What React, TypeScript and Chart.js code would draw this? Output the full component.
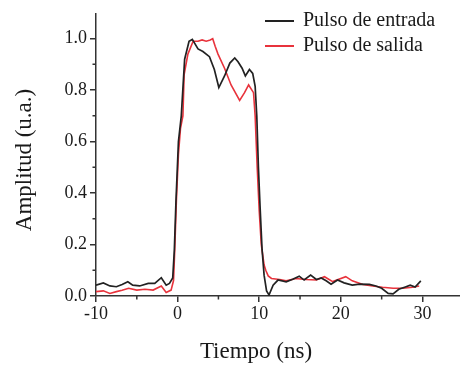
import React, { useEffect, useRef } from "react";
import { Chart, registerables } from "chart.js";

Chart.register(...registerables);

// Pulso de entrada (black)
const entradaT = [-10, -9.1, -8.3, -7.5, -6.8, -6.1, -5.5, -4.65, -3.6, -2.8, -2.0, -1.4, -1.0, -0.6, -0.4, -0.2, 0.1, 0.45, 0.86, 1.4, 1.8, 2.5, 3.1, 3.9, 4.5, 5.05, 5.75, 6.4, 7.0, 7.4, 7.9, 8.3, 8.8, 9.2, 9.5, 9.7, 9.9, 10.1, 10.35, 10.6, 10.9, 11.2, 11.7, 12.3, 13.3, 14.1, 14.9, 15.5, 16.3, 17.0, 17.6, 18.2, 18.8, 19.6, 20.4, 21.4, 22.3, 23.5, 24.3, 25.0, 25.8, 26.4, 27.1, 27.9, 28.5, 29.1, 29.8];
const entradaV = [0.042, 0.051, 0.039, 0.036, 0.045, 0.055, 0.042, 0.039, 0.049, 0.049, 0.071, 0.042, 0.049, 0.07, 0.18, 0.37, 0.6, 0.7, 0.92, 0.99, 0.997, 0.96, 0.95, 0.93, 0.88, 0.81, 0.855, 0.905, 0.925, 0.91, 0.885, 0.855, 0.88, 0.865, 0.815, 0.7, 0.5, 0.35, 0.18, 0.08, 0.02, 0.004, 0.042, 0.062, 0.055, 0.065, 0.077, 0.062, 0.081, 0.064, 0.07, 0.059, 0.046, 0.062, 0.051, 0.042, 0.046, 0.045, 0.039, 0.03, 0.01, 0.008, 0.026, 0.035, 0.042, 0.035, 0.059];

// Pulso de salida (red)
const salidaT = [-10, -9.1, -8.3, -7.5, -6.8, -6.0, -5.0, -4.0, -3.0, -2.0, -1.4, -0.8, -0.5, -0.35, -0.15, 0.1, 0.35, 0.65, 0.8, 1.26, 1.9, 2.5, 3.0, 3.5, 4.0, 4.3, 4.6, 4.95, 5.75, 6.55, 7.6, 8.2, 8.7, 9.1, 9.3, 9.5, 9.75, 10.0, 10.25, 10.6, 10.8, 11.1, 11.5, 12.5, 13.3, 14.5, 15.7, 17.0, 18.0, 19.0, 20.6, 21.4, 22.7, 23.9, 25.1, 26.4, 27.6, 28.8, 29.6];
const salidaV = [0.017, 0.02, 0.01, 0.017, 0.022, 0.03, 0.023, 0.026, 0.023, 0.039, 0.014, 0.023, 0.06, 0.18, 0.37, 0.55, 0.65, 0.7, 0.86, 0.94, 0.99, 0.99, 0.995, 0.99, 0.995, 1.0, 0.97, 0.94, 0.885, 0.82, 0.76, 0.79, 0.82, 0.8, 0.79, 0.7, 0.5, 0.33, 0.2, 0.12, 0.1, 0.078, 0.068, 0.064, 0.059, 0.068, 0.064, 0.062, 0.075, 0.056, 0.075, 0.059, 0.045, 0.039, 0.034, 0.03, 0.03, 0.034, 0.039];

const seriesLabels = ["Pulso de entrada", "Pulso de salida"];
const xMajorTicks = [-10, 0, 10, 20, 30];
const xMinorTicks = [-5, 5, 15, 25];
const yMajorTicks = [0, 0.2, 0.4, 0.6, 0.8, 1.0];
const yMinorTicks = [0.1, 0.3, 0.5, 0.7, 0.9];
const xTitle = "Tiempo (ns)";
const yTitle = "Amplitud (u.a.)";

const FONT = "'Liberation Serif', 'Times New Roman', serif";
const AXIS = "#333333";
const TEXT = "#1a1a1a";

export default function App() {
  const ref = useRef<HTMLCanvasElement>(null);
  useEffect(() => {
    if (!ref.current) return;
    const toPts = (t: number[], v: number[]) => t.map((x, i) => ({ x, y: v[i] }));
    const decor = {
      id: "decor",
      afterDraw(chart: any) {
        const ctx = chart.ctx;
        const xs = chart.scales.x;
        const ys = chart.scales.y;
        const area = chart.chartArea;
        ctx.save();
        ctx.strokeStyle = AXIS;
        ctx.lineWidth = 1.5;
        ctx.beginPath();
        xMinorTicks.forEach((t) => {
          const px = xs.getPixelForValue(t);
          ctx.moveTo(px, area.bottom);
          ctx.lineTo(px, area.bottom + 3.5);
        });
        yMinorTicks.forEach((t) => {
          const py = ys.getPixelForValue(t);
          ctx.moveTo(area.left, py);
          ctx.lineTo(area.left - 3.5, py);
        });
        ctx.stroke();
        // axis titles
        ctx.fillStyle = TEXT;
        ctx.font = `23px ${FONT}`;
        ctx.textAlign = "center";
        ctx.textBaseline = "middle";
        ctx.fillText(xTitle, 256, 352);
        ctx.save();
        ctx.translate(25, 160);
        ctx.rotate(-Math.PI / 2);
        ctx.fillText(yTitle, 0, 0);
        ctx.restore();
        // legend
        ctx.font = `20px ${FONT}`;
        ctx.textAlign = "left";
        chart.data.datasets.forEach((ds: any, i: number) => {
          const y = 21 + i * 25;
          ctx.strokeStyle = ds.borderColor;
          ctx.lineWidth = 2;
          ctx.beginPath();
          ctx.moveTo(265, y);
          ctx.lineTo(294, y);
          ctx.stroke();
          ctx.fillStyle = TEXT;
          ctx.fillText(ds.label, 303, y);
        });
        ctx.restore();
      },
    };
    const chart = new Chart(ref.current, {
      type: "line",
      data: {
        datasets: [
          {
            label: seriesLabels[0],
            data: toPts(entradaT, entradaV),
            borderColor: "#222222",
            borderWidth: 1.7,
            pointRadius: 0,
            tension: 0,
          },
          {
            label: seriesLabels[1],
            data: toPts(salidaT, salidaV),
            borderColor: "#e8333c",
            borderWidth: 1.6,
            pointRadius: 0,
            tension: 0,
          },
        ],
      },
      options: {
        animation: false,
        responsive: false,
        layout: { padding: { top: 12, right: 0, left: 0, bottom: 0 } },
        plugins: { legend: { display: false }, tooltip: { enabled: false } },
        scales: {
          x: {
            type: "linear",
            min: -10,
            max: 34.6,
            afterBuildTicks: (s: any) => {
              s.ticks = xMajorTicks.map((v) => ({ value: v }));
            },
            afterFit: (s: any) => {
              s.height = 75;
            },
            grid: { display: true, drawOnChartArea: false, drawTicks: true, tickLength: 6, color: AXIS, lineWidth: 1.5 },
            border: { display: true, color: AXIS, width: 1.5 },
            ticks: { color: TEXT, font: { family: FONT, size: 18 }, padding: 1, maxRotation: 0, callback: (v: any) => String(v) },
          },
          y: {
            type: "linear",
            min: 0,
            max: 1.0965,
            afterBuildTicks: (s: any) => {
              s.ticks = yMajorTicks.map((v) => ({ value: v }));
            },
            afterFit: (s: any) => {
              s.width = 96;
            },
            grid: { display: true, drawOnChartArea: false, drawTicks: true, tickLength: 6, color: AXIS, lineWidth: 1.5 },
            border: { display: true, color: AXIS, width: 1.5 },
            ticks: { color: TEXT, font: { family: FONT, size: 18 }, padding: 3, callback: (v: any) => Number(v).toFixed(1) },
          },
        },
      },
      plugins: [decor],
    });
    return () => chart.destroy();
  }, []);
  return (
    <div style={{ position: "fixed", left: 0, top: 0, width: 460, height: 371, background: "#fff" }}>
      <canvas ref={ref} width={460} height={371} style={{ width: 460, height: 371, display: "block" }} />
    </div>
  );
}
